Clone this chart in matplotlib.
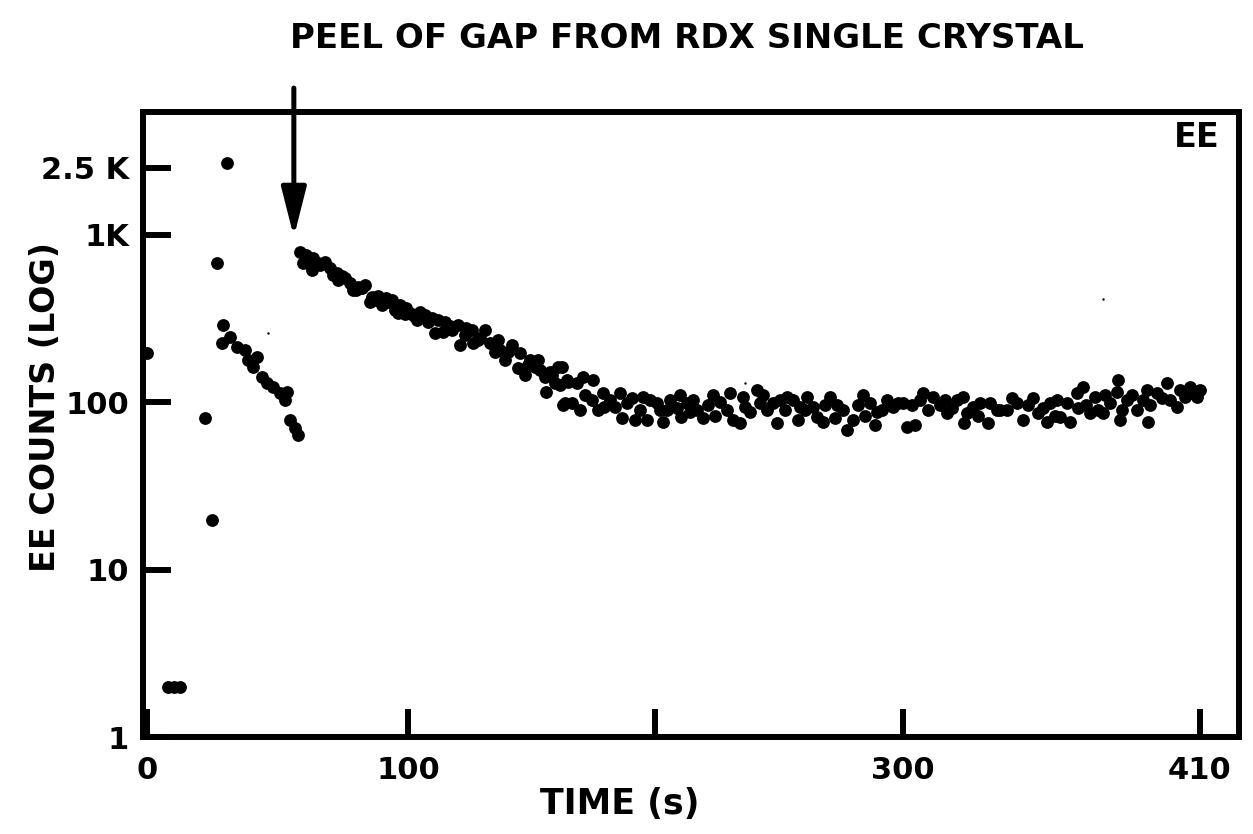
"""Peel of GAP from an RDX single crystal: electron emission (EE) counts vs time, log scale."""

import matplotlib
matplotlib.use("Agg")
import matplotlib.pyplot as plt
from matplotlib.ticker import NullLocator

# -----------------------------------------------------------------------------
# Data (time in s, EE counts)
# -----------------------------------------------------------------------------

# first burst: isolated points before the peel front
burst_t = [-5.5, 3.0, 5.5, 7.9, 18.0, 20.8, 22.8, 25.3, 26.9]
burst_counts = [196, 2.0, 2.0, 2.0, 80, 19.7, 676, 288, 2673]

# short decaying run after the first burst
early_t = [24.8, 28.1, 30.9, 34.1, 35.4, 37.4, 39.0, 41.0, 43.0, 45.5, 48.3, 50.3, 51.1,
           52.3, 54.3, 55.6]
early_counts = [225, 244, 213, 204, 178, 162, 186, 141, 130, 123, 113, 103, 115,
                78, 70, 63.5]

# main run: decay after the peel (arrow) and the flat tail
main_t = [56.4, 57.6, 58.8, 61.2, 61.6, 63.6, 66.5, 68.5, 71.3, 71.7, 74.5, 76.6, 77.8,
          79.8, 82.6, 84.6, 85.5, 87.9, 89.5, 91.9, 93.5, 96.0, 96.8, 99.2, 100.8, 103.6,
          104.8, 106.9, 109.7, 110.9, 114.1, 114.9, 117.0, 120.2, 121.0, 123.0, 125.9, 126.3,
          129.1, 131.1, 133.1, 135.2, 137.2, 139.2, 142.0, 144.4, 145.3, 147.3, 149.3, 151.3,
          153.3, 155.4, 155.8, 157.4, 159.4, 160.6, 162.2, 162.6, 163.4, 164.2, 164.6, 166.3,
          168.3, 169.5, 170.7, 174.3, 174.7, 178.8, 179.2, 183.6, 185.7, 186.5, 188.5, 190.5,
          191.7, 195.0, 196.6, 197.8, 200.6, 201.8, 203.0, 204.6, 208.7, 209.9, 210.3, 212.7,
          215.2, 216.8, 219.2, 223.2, 226.1, 228.9, 230.1, 231.3, 234.1, 235.4, 236.2, 241.0,
          242.2, 245.1, 247.5, 249.1, 250.3, 253.1, 255.6, 257.6, 258.4, 261.2, 263.6, 265.3,
          267.7, 270.5, 273.3, 275.8, 277.4, 279.8, 283.8, 286.7, 288.7, 289.5, 293.5, 295.9,
          297.9, 300.0, 301.6, 304.8, 306.9, 308.1, 312.1, 314.9, 317.8, 321.8, 324.2, 324.6,
          325.9, 328.3, 331.1, 334.3, 335.2, 338.0, 342.0, 346.1, 348.5, 352.5, 354.5, 358.2,
          359.4, 362.2, 363.4, 366.3, 367.5, 370.3, 370.7, 372.7, 375.6, 377.6, 380.8, 383.6,
          386.5, 386.9, 387.7, 390.5, 392.5, 394.5, 397.0, 398.6, 399.0, 402.6, 406.7, 407.9,
          410.7, 411.9, 415.9, 416.8, 418.8]
main_counts = [786, 676, 754, 614, 724, 676, 685, 631, 589, 535, 550, 513, 466,
               486, 499, 395, 424, 429, 379, 395, 406, 340, 379, 364, 340, 309,
               345, 331, 317, 258, 262, 300, 284, 288, 219, 251, 269, 225,
               241, 269, 225, 199, 204, 178, 219, 160, 196, 145, 178, 162,
               155, 141, 115, 151, 130, 162, 162, 96, 99, 135, 132, 99,
               130, 90, 141, 103, 135, 113, 93, 93, 113, 80, 99, 106,
               78, 107, 78, 103, 99, 90, 76, 90, 92, 110, 81, 99,
               103, 90, 80, 110, 100, 90, 113, 78, 75, 107, 93, 118,
               99, 90, 99, 75, 103, 107, 103, 78, 93, 107, 93, 81,
               76, 107, 96, 90, 68, 78, 110, 99, 73, 87, 103, 93,
               99, 99, 71, 73, 103, 113, 107, 96, 86, 103, 107, 75,
               86, 93, 99, 75, 99, 90, 90, 99, 78, 106, 86, 76,
               99, 103, 81, 99, 76, 113, 92, 123, 86, 107, 86, 99,
               115, 135, 78, 103, 110, 90, 103, 118, 76, 113, 130, 103,
               93, 118, 123, 113, 107]

# more dots of the same run, packed inside the band
band_t = [59.6, 64.4, 69.7, 73.3, 79.0, 81.4, 87.1, 91.1, 94.7, 98.8, 102.4, 108.1, 112.1,
          117.8, 123.4, 128.3, 136.4, 140.4, 148.5, 152.5, 158.2, 161.4,
          171.5, 176.8, 181.6, 193.7, 205.9, 213.9, 221.2, 224.0, 238.2, 243.5, 252.3, 260.4,
          268.5, 272.5, 281.8, 284.6, 291.5, 303.6, 310.1, 317.0, 319.8, 330.3, 339.2, 344.0,
          350.5, 356.5, 361.4, 373.8, 378.8, 381.6, 388.5, 399.8, 404.7, 414.1, 420.2]
band_counts = [685, 658, 573, 565, 466, 480, 406, 418, 354, 335, 326, 300, 309,
               269, 277, 235, 235, 199, 166, 178, 145, 126,
               110, 90, 103, 90, 103, 87, 96, 83, 87, 110, 90, 90,
               96, 80, 96, 83, 90, 96, 90, 103, 92, 83, 90, 106,
               96, 92, 83, 96, 90, 110, 90, 96, 106, 107, 118]

# tiny specks on the scan
speck_t = [43.4, 236.2, 380.8]
speck_counts = [258, 130, 412]

# peel moment marked by the arrow
peel_t = 53.9
arrow_from, arrow_to = 7494, 966

xtick_pos = [-5.5, 100, 200, 300, 420]
xtick_labels = ["0", "100", "", "300", "410"]
ytick_pos = [1, 10, 100, 1000, 2500]
ytick_labels = ["1", "10", "100", "1K", "2.5 K"]

# -----------------------------------------------------------------------------
# Figure
# -----------------------------------------------------------------------------

plt.rcParams["font.family"] = "DejaVu Sans"
plt.rcParams["font.weight"] = "bold"

fig = plt.figure(figsize=(12.53, 8.34), dpi=100)
ax = fig.add_axes([0.1141, 0.1163, 0.8747, 0.7494])

dot = dict(s=85, color="black", linewidths=0, clip_on=False, zorder=3)
ax.scatter(burst_t, burst_counts, **dot)
ax.scatter(early_t, early_counts, **dot)
ax.scatter(main_t, main_counts, **dot)
ax.scatter(band_t, band_counts, **dot)
ax.scatter(speck_t, speck_counts, s=3, color="black", linewidths=0, zorder=3)

ax.annotate("", xy=(peel_t, arrow_to), xytext=(peel_t, arrow_from),
            arrowprops=dict(arrowstyle="-|>,head_length=1.5,head_width=0.38", mutation_scale=20,
                            lw=3.6, color="black", shrinkA=0, shrinkB=0),
            annotation_clip=False)

ax.set_yscale("log")
ax.set_xlim(-7.07, 435.8)
ax.set_ylim(1, 5390)
ax.set_xticks(xtick_pos)
ax.set_xticklabels(xtick_labels)
ax.set_yticks(ytick_pos)
ax.set_yticklabels(ytick_labels)
ax.yaxis.set_minor_locator(NullLocator())
ax.xaxis.set_minor_locator(NullLocator())
ax.tick_params(direction="in", length=20, width=4.3, labelsize=22, color="black")
ax.tick_params(axis="y", pad=10)
ax.tick_params(axis="x", pad=14)
for spine in ax.spines.values():
    spine.set_linewidth(4.3)

ax.text(0.982, 0.986, "EE", transform=ax.transAxes, ha="right", va="top", fontsize=24,
        fontweight="bold")

fig.text(687 / 1253, 1 - 39 / 834, "PEEL OF GAP FROM RDX SINGLE CRYSTAL", ha="center",
         va="center", fontsize=24.5, fontweight="bold")
fig.text(46 / 1253, 1 - 407 / 834, "EE COUNTS (LOG)", rotation=90, ha="center", va="center",
         fontsize=24, fontweight="bold")
fig.text(620 / 1253, 1 - 804 / 834, "TIME (s)", ha="center", va="center", fontsize=25,
         fontweight="bold")

fig.savefig("out.png", dpi=100)
